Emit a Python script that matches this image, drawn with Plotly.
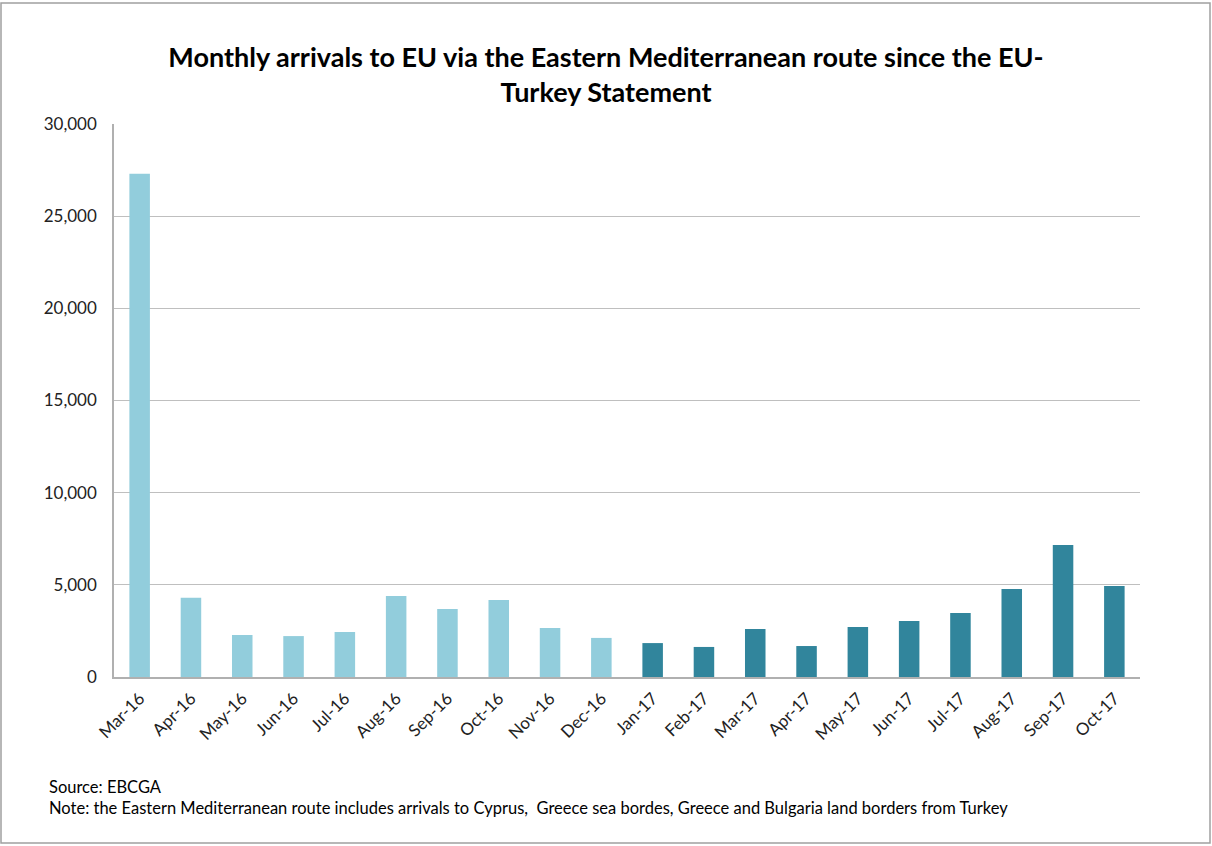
import plotly.graph_objects as go

months = ["Mar-16", "Apr-16", "May-16", "Jun-16", "Jul-16", "Aug-16", "Sep-16", "Oct-16",
          "Nov-16", "Dec-16", "Jan-17", "Feb-17", "Mar-17", "Apr-17", "May-17", "Jun-17",
          "Jul-17", "Aug-17", "Sep-17", "Oct-17"]
arrivals = [27300, 4300, 2280, 2220, 2440, 4390, 3690, 4180, 2660, 2120,
            1840, 1630, 2600, 1680, 2710, 3040, 3470, 4770, 7160, 4940]
year_colors = {"16": "#92CDDC", "17": "#31859C"}
bar_colors = [year_colors[m[-2:]] for m in months]

title_text = "Monthly arrivals to EU via the Eastern Mediterranean route since the EU-<br>Turkey Statement"
note_text = ("Source: EBCGA<br>Note: the Eastern Mediterranean route includes arrivals to Cyprus,  "
             "Greece sea bordes, Greece and Bulgaria land borders from Turkey")

FONT = "Lato, 'Open Sans', sans-serif"

fig = go.Figure(go.Bar(x=months, y=arrivals, marker=dict(color=bar_colors, line=dict(width=0)),
                       width=0.4))

W, H = 1212, 846
L, R, T, B = 114, 72, 124, 169
pw, ph = W - L - R, H - T - B

def px_x(p):
    return (p - L) / pw

def px_y(p):
    return (H - B - p) / ph

fig.update_layout(
    width=W, height=H,
    margin=dict(l=L, r=R, t=T, b=B),
    paper_bgcolor="white", plot_bgcolor="white",
    font=dict(family=FONT, color="#000000"),
    title=dict(text="<b>" + title_text + "</b>", x=0.5, xref="container", xanchor="center",
               y=1 - 67 / H, yanchor="middle", yref="container",
               font=dict(size=27, family=FONT, color="#000000")),
    showlegend=False,
    bargap=0.6,
    xaxis=dict(tickangle=-45, tickfont=dict(size=17, color="#222222"), showline=True,
               linecolor="#B0B0B0", linewidth=1.5, ticks="outside", ticklen=3,
               tickcolor="rgba(0,0,0,0)", showgrid=False),
    yaxis=dict(range=[0, 30000], dtick=5000, tickformat=",", tickfont=dict(size=17, color="#222222"),
               showgrid=True, gridcolor="#BFBFBF", gridwidth=1, showline=True, linecolor="#B0B0B0",
               linewidth=1.5, ticks="outside", ticklen=12, tickcolor="rgba(0,0,0,0)",
               zeroline=False),
    shapes=[dict(type="rect", xref="paper", yref="paper", x0=px_x(1), x1=px_x(1210),
                 y0=px_y(843), y1=px_y(3), line=dict(color="#A0A0A0", width=1.5))],
    annotations=[dict(text=note_text, xref="paper", yref="paper", x=px_x(47), y=px_y(775),
                      xanchor="left", yanchor="top", showarrow=False, align="left",
                      font=dict(size=16.5, family=FONT, color="#000000"))],
)

fig.write_html("out.html", config={"displayModeBar": False},
               post_script="document.body.style.margin='0';document.body.style.padding='0';")
